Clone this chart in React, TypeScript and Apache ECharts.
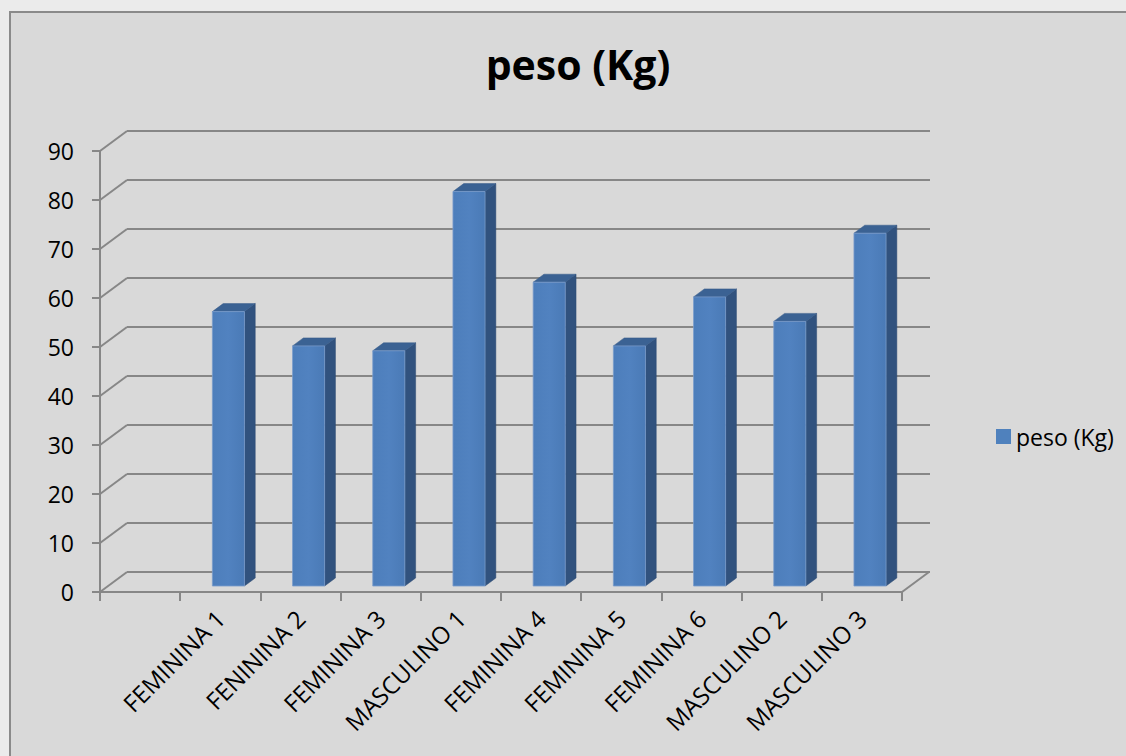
import React, { useEffect, useRef } from "react";
import * as echarts from "echarts";

// Weight per person, one column each; the first slot of the category axis is blank.
const categories = [
  "",
  "FEMININA 1",
  "FENININA 2",
  "FEMININA 3",
  "MASCULINO 1",
  "FEMININA 4",
  "FEMININA 5",
  "FEMININA 6",
  "MASCULINO 2",
  "MASCULINO 3",
];
const pesoKg: (number | null)[] = [null, 56, 49, 48, 80.5, 62, 49, 59, 54, 72];
const yTicks = [0, 10, 20, 30, 40, 50, 60, 70, 80, 90];

const seriesName = "peso (Kg)";
const FONT = "'Open Sans', 'DejaVu Sans', sans-serif";

// Perspective offset between front plane and back wall
const DEPTH_X = 27;
const DEPTH_Y = -20;
const LINE = "#878787";

export default function App() {
  const ref = useRef<HTMLDivElement>(null);

  useEffect(() => {
    const chart = echarts.init(ref.current!, null, { renderer: "svg" });

    const barData = pesoKg
      .map((v, i) => (v == null ? null : [i, v]))
      .filter((d) => d !== null) as number[][];

    const option: any = {
      animation: false,
      backgroundColor: "#ebebeb",
      graphic: [
        {
          type: "rect",
          z: -100,
          silent: true,
          shape: { x: 10, y: 12, width: 1200, height: 800 },
          style: { fill: "#d9d9d9", stroke: "#8a8a8a", lineWidth: 2 },
        },
      ],
      title: {
        text: seriesName,
        left: 573,
        textAlign: "center",
        top: 38,
        textStyle: { fontFamily: FONT, fontWeight: "bold", fontSize: 41, color: "#000" },
      },
      legend: {
        data: [seriesName],
        left: 991,
        top: 420,
        icon: "rect",
        itemWidth: 15,
        itemHeight: 15,
        itemGap: 6,
        textStyle: { fontFamily: FONT, fontSize: 23, color: "#000" },
      },
      grid: [
        { left: 100, top: 151, width: 802, height: 441 },
        { left: 127, top: 131, width: 803, height: 441 },
      ],
      xAxis: [
        {
          type: "category",
          gridIndex: 0,
          data: categories,
          boundaryGap: true,
          axisLine: { lineStyle: { color: LINE, width: 2 } },
          axisTick: { show: true, length: 9, lineStyle: { color: LINE, width: 2 } },
          axisLabel: {
            interval: 0,
            rotate: 45,
            margin: 22,
            fontFamily: FONT,
            fontSize: 24,
            color: "#000",
          },
          splitLine: { show: false },
        },
        {
          type: "category",
          gridIndex: 1,
          data: categories,
          show: false,
        },
      ],
      yAxis: [
        {
          type: "value",
          gridIndex: 0,
          min: 0,
          max: 90,
          interval: 10,
          axisLine: { show: true, lineStyle: { color: LINE, width: 2 } },
          axisTick: { show: true, length: 8, lineStyle: { color: LINE, width: 2 } },
          axisLabel: { margin: 26, fontFamily: FONT, fontSize: 23, color: "#000" },
          splitLine: { show: false },
        },
        {
          type: "value",
          gridIndex: 1,
          min: 0,
          max: 90,
          interval: 10,
          axisLine: { show: false },
          axisTick: { show: false },
          axisLabel: { show: false },
          splitLine: { show: true, lineStyle: { color: LINE, width: 2 } },
        },
      ],
      series: [
        {
          // diagonal lines of the left side wall, one per value tick
          name: "leftWall",
          type: "custom",
          xAxisIndex: 0,
          yAxisIndex: 0,
          silent: true,
          z: 1,
          data: yTicks.map((v) => [0, v]),
          renderItem: (params: any, api: any) => {
            const p = api.coord([0, api.value(1)]);
            const xl = p[0] - api.size([1, 0])[0] / 2;
            return {
              type: "line",
              shape: { x1: xl, y1: p[1], x2: xl + DEPTH_X, y2: p[1] + DEPTH_Y },
              style: { stroke: LINE, lineWidth: 2 },
            };
          },
        },
        {
          // right edge of the floor
          name: "floorEdge",
          type: "custom",
          xAxisIndex: 0,
          yAxisIndex: 0,
          silent: true,
          z: 1,
          data: [[categories.length - 1, 0]],
          renderItem: (params: any, api: any) => {
            const p = api.coord([api.value(0), 0]);
            const xr = p[0] + api.size([1, 0])[0] / 2;
            return {
              type: "line",
              shape: { x1: xr, y1: p[1], x2: xr + DEPTH_X, y2: p[1] + DEPTH_Y },
              style: { stroke: LINE, lineWidth: 2 },
            };
          },
        },
        {
          name: seriesName,
          type: "custom",
          xAxisIndex: 0,
          yAxisIndex: 0,
          z: 3,
          itemStyle: { color: "#4f81bd" },
          data: barData,
          renderItem: (params: any, api: any) => {
            const cat = api.value(0);
            const val = api.value(1);
            const base = api.coord([cat, 0]);
            const top = api.coord([cat, val]);
            const catW = api.size([1, 0])[0];
            const w = catW * 0.4;
            // bar sits between 30% and 70% of the floor depth
            const ox = DEPTH_X * 0.3;
            const oy = DEPTH_Y * 0.3;
            const dx = DEPTH_X * 0.4;
            const dy = DEPTH_Y * 0.4;
            const left = base[0] - w / 2 + ox;
            const right = left + w;
            const bottom = base[1] + oy;
            const topY = top[1] + oy;
            return {
              type: "group",
              children: [
                {
                  type: "polygon",
                  shape: {
                    points: [
                      [right, bottom],
                      [right + dx, bottom + dy],
                      [right + dx, topY + dy],
                      [right, topY],
                    ],
                  },
                  style: { fill: "#31527e", stroke: "#2c4a72", lineWidth: 0.5 },
                },
                {
                  type: "polygon",
                  shape: {
                    points: [
                      [left, topY],
                      [left + dx, topY + dy],
                      [right + dx, topY + dy],
                      [right, topY],
                    ],
                  },
                  style: { fill: "#3b6293", stroke: "#365a88", lineWidth: 0.5 },
                },
                {
                  type: "rect",
                  shape: { x: left, y: topY, width: w, height: bottom - topY },
                  style: {
                    fill: new echarts.graphic.LinearGradient(0, 0, 1, 0, [
                      { offset: 0, color: "#4d7ebb" },
                      { offset: 0.5, color: "#5182c0" },
                      { offset: 1, color: "#4a7ab6" },
                    ]),
                    stroke: "#7a9ccb",
                    lineWidth: 0.8,
                  },
                },
              ],
            };
          },
        },
      ],
    };

    chart.setOption(option);
    return () => chart.dispose();
  }, []);

  return (
    <div
      ref={ref}
      style={{ position: "absolute", left: 0, top: 0, width: 1126, height: 756 }}
    />
  );
}
